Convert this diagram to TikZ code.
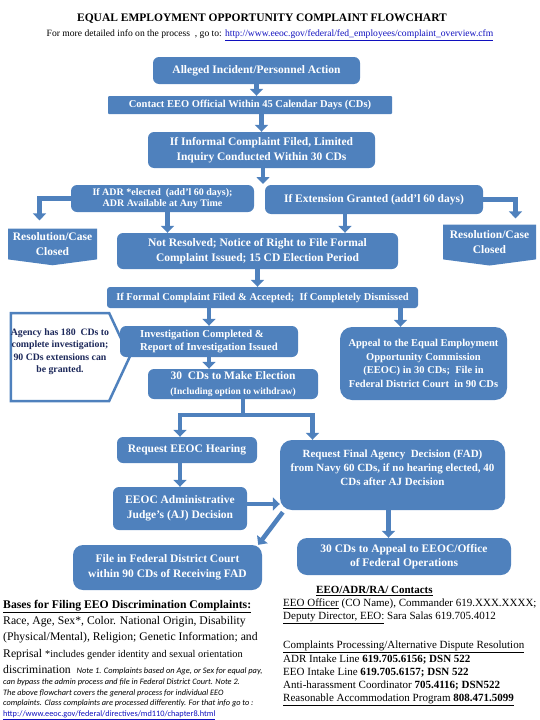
\documentclass[tikz,border=0pt]{standalone}
\usepackage{fontspec}
\setmainfont{Liberation Serif}
\newfontfamily\notefont{Carlito}
\usepackage{xcolor}
\usepackage{tikz}
\usetikzlibrary{arrows.meta,calc,shapes.symbols}
\definecolor{eeoblue}{RGB}{79,129,189}
\definecolor{linkblue}{RGB}{16,16,190}
\definecolor{navytext}{RGB}{28,40,90}
\newcommand{\fsz}[2]{\fontsize{#1}{#2}\selectfont}

\begin{document}
\begin{tikzpicture}[x=1pt,y=-1pt,
    box/.style={fill=eeoblue,text=white,align=center,inner sep=0pt,rounded corners=6pt,font=\bfseries\fsz{11.5}{14.5}},
    smallbox/.style={box,font=\bfseries\fsz{10.5}{13.5}},
    resbox/.style={signal,signal to=south,signal pointer angle=165,fill=eeoblue,text=white,align=center,inner sep=0pt,font=\bfseries\fsz{11.5}{14.5},minimum width=89pt,minimum height=36pt},
    flowarrow/.style={draw=eeoblue,line width=4.5pt,-{Triangle[width=13pt,length=7pt]}}]
    \useasboundingbox (0,0) rectangle (540,720);

    % heading
    \node[font=\bfseries\fsz{11.5}{14}] (title) at (262,19) {EQUAL EMPLOYMENT OPPORTUNITY COMPLAINT FLOWCHART};
    \node[font=\fsz{9.6}{11}] (sub) at (270,35) {For more detailed info on the process \ , go to: \textcolor{linkblue}{\underline{http://www.eeoc.gov/federal/fed\_employees/complaint\_overview.cfm}}};

    % informal stage
    \node[box,minimum width=207pt,minimum height=27pt] (b1) at (256.5,70.5) {Alleged Incident/Personnel Action};
    \node[smallbox,rounded corners=1pt,minimum width=284pt,minimum height=18pt] (b2) at (250,105) {Contact EEO Official Within 45 Calendar Days (CDs)};
    \node[box,minimum width=227pt,minimum height=36pt] (b3) at (261.5,150) {If Informal Complaint Filed, Limited\\Inquiry Conducted Within 30 CDs};
    \node[box,font=\bfseries\fsz{10}{11.5},minimum width=183pt,minimum height=27pt] (adr) at (162.5,198.5) {If ADR *elected \ (add’l 60 days);\\ADR Available at Any Time};
    \node[box,minimum width=218pt,minimum height=29pt] (ext) at (374,199.5) {If Extension Granted (add’l 60 days)};
    \node[resbox] (lres) at (52.5,244) {Resolution/Case\\Closed};
    \node[resbox,minimum width=93pt,minimum height=40pt] (rres) at (489.5,242) {Resolution/Case\\Closed};
    \node[box,minimum width=281pt,minimum height=36pt] (nr) at (257.5,251) {Not Resolved; Notice of Right to File Formal\\Complaint Issued; 15 CD Election Period};
    \coordinate (gap) at (263,184);

    % formal stage
    \node[smallbox,rounded corners=3pt,minimum width=311pt,minimum height=21pt] (formal) at (262.5,297.5) {If Formal Complaint Filed \& Accepted; \ If Completely Dismissed};
    \node[signal,signal to=east,signal pointer angle=130,draw=eeoblue,line width=2.5pt,fill=white,text=navytext,align=center,inner sep=0pt,font=\bfseries\fsz{9.8}{12.5},minimum width=115pt,minimum height=88pt] (agency) at (60,357) {Agency has 180 \ CDs to\\complete investigation;\\90 CDs extensions can\\be granted.\\~};
    \node[smallbox,align=left,font=\bfseries\fsz{10.7}{13},minimum width=178pt,minimum height=31pt] (inv) at (209,341.5) {Investigation Completed \&\\Report of Investigation Issued};
    \node[box,minimum width=170pt,minimum height=30pt] (e30) at (233,384) {30 \ CDs to Make Election\\{\fsz{9.5}{11}(Including option to withdraw)}};
    \node[smallbox,rounded corners=12pt,minimum width=167pt,minimum height=73pt] (appeal) at (423.5,363.5) {Appeal to the Equal Employment\\Opportunity Commission\\(EEOC) in 30 CDs; \ File in\\Federal District Court \ in 90 CDs};
    \node[box,minimum width=140pt,minimum height=26pt] (hear) at (187,450) {Request EEOC Hearing};
    \node[box,font=\bfseries\fsz{11}{14},rounded corners=12pt,minimum width=225pt,minimum height=70pt] (fad) at (392.5,475) {Request Final Agency \ Decision (FAD)\\from Navy 60 CDs, if no hearing elected, 40\\CDs after AJ Decision\\~};
    \node[box,minimum width=134pt,minimum height=43pt] (aj) at (180,508.5) {EEOC Administrative\\Judge’s (AJ) Decision};
    \node[box,rounded corners=10pt,minimum width=189pt,minimum height=45pt] (fed) at (167.5,567.5) {File in Federal District Court\\within 90 CDs of Receiving FAD};
    \node[box,rounded corners=10pt,minimum width=214pt,minimum height=37pt] (app30) at (404,556.5) {30 CDs to Appeal to EEOC/Office\\of Federal Operations};
    \coordinate (split) at ($(e30.south)+(10,16)$);

    % arrows
    \draw[flowarrow] (b1.south) -- (b1.south |- b2.north);
    \draw[flowarrow] (b2.south -| b3.north) -- (b3.north);
    \draw[flowarrow] (b3.south -| gap) -- (gap);
    \draw[flowarrow] (adr.west) -| ([shift={(-13,-8)}]lres.north);
    \draw[flowarrow] (ext.east) -| ([shift={(26,-6)}]rres.north);
    \draw[flowarrow] ([xshift=5pt]adr.south) -- ([xshift=5pt]adr.south |- nr.north);
    \draw[flowarrow] ([xshift=-29pt]ext.south) -- ([xshift=-29pt]ext.south |- nr.north);
    \draw[flowarrow] (nr.south) -- (nr.south |- formal.north);
    \draw[flowarrow] (inv.north |- formal.south) -- (inv.north);
    \draw[flowarrow] ([xshift=-23pt]appeal.north |- formal.south) -- ([xshift=-23pt]appeal.north);
    \draw[flowarrow] (inv.south) -- (inv.south |- e30.north);
    \draw[flowarrow] (e30.south -| split) -- (split) -| ([xshift=-7pt]hear.north);
    \draw[flowarrow] (split) -| ([xshift=-80pt]fad.north);
    \draw[flowarrow] (aj.north |- hear.south) -- (aj.north);
    \draw[flowarrow] ([yshift=4.5pt]aj.east) -- ([yshift=4.5pt]aj.east -| fad.west);
    \draw[flowarrow] ([shift={(3,2)}]fad.south west) -- ([shift={(-4,0)}]fed.north east);
    \draw[flowarrow] ([xshift=-4pt]fad.south) -- ([xshift=-4pt]fad.south |- app30.north);

    % notes
    \node[anchor=north west,align=left,inner sep=0pt,font=\fsz{11.7}{16.2}] (bases) at (3,600) {\textbf{\underline{Bases for Filing EEO Discrimination Complaints:}}\\
      Race, Age, Sex*, Color. National Origin, Disability\\
      (Physical/Mental), Religion; Genetic Information; and\\
      Reprisal {\fsz{10.3}{12}*includes gender identity and sexual orientation}\\
      discrimination \ {\notefont\itshape\fsz{8.4}{10}Note 1. Complaints based on Age, or Sex for equal pay,}};
    \node[anchor=north west,align=left,inner sep=0pt,font=\notefont\itshape\fsz{8.3}{10.4}] (notes) at (3,679) {can bypass the admin process and file in Federal District Court. Note 2.\\
      The above flowchart covers the general process for individual EEO\\
      complaints. Class complaints are processed differently. For that info go to :\\
      {\upshape\textcolor{linkblue}{\underline{http://www.eeoc.gov/federal/directives/md110/chapter8.html}}}};
    \node[anchor=north west,align=left,inner sep=0pt,font=\fsz{11}{12.8}] (contacts) at (283,586.5) {\hspace*{33pt}\textbf{\underline{EEO/ADR/RA/ Contacts}}\\
      \underline{EEO Officer} (CO Name), Commander 619.XXX.XXXX;\\
      \underline{Deputy Director, EEO:} Sara Salas 619.705.4012\\[16.5pt]
      \underline{Complaints Processing/Alternative Dispute Resolution}\\[1pt]
      ADR Intake Line \textbf{619.705.6156; DSN 522}\\
      EEO Intake Line \textbf{619.705.6157; DSN 522}\\
      Anti-harassment Coordinator \textbf{705.4116; DSN522}\\
      \underline{Reasonable Accommodation Program \textbf{808.471.5099}}};
\end{tikzpicture}
\end{document}
